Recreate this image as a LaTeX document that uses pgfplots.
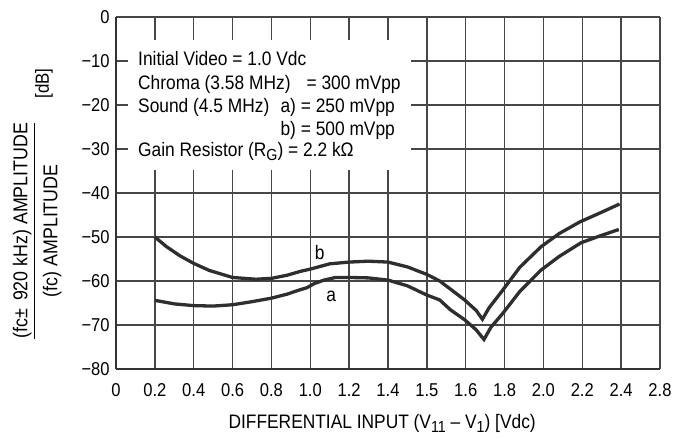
\documentclass[border=0pt]{standalone}
\usepackage{fontspec}
\setmainfont{Liberation Sans}[FakeStretch=0.89]
\usepackage{pgfplots}
\pgfplotsset{compat=1.18}

\newcommand{\sub}[1]{\raisebox{-4bp}{\fontsize{16bp}{16bp}\selectfont #1}}
\newcommand{\boxfont}{\fontsize{19.5bp}{22bp}\selectfont}

\begin{document}
\fontsize{18.6bp}{22bp}\selectfont
\begin{tikzpicture}
\begin{axis}[
    scale only axis,
    width=544bp, height=352bp,
    xmin=0, xmax=14,
    ymin=-80, ymax=0,
    xtick={0,1,...,14},
    xticklabels={0,0.2,0.4,0.6,0.8,1.0,1.2,1.4,1.5,1.6,1.8,2.0,2.2,2.4,2.8},
    ytick={-80,-70,...,0},
    yticklabels={−80,−70,−60,−50,−40,−30,−20,−10,0},
    axis x line=bottom, axis y line=left,
    axis line style={line width=2.6bp, color=black!80, -},
    major tick length=0pt,
    grid=major,
    grid style={line width=1.3bp, color=black!72},
    xticklabel style={yshift=-8bp},
    clip=false,
]

% b) 500 mVpp
\addplot[line width=3.3bp, color=black!82] coordinates {
 (1,-50.0) (1.3,-52.2) (1.65,-54.3) (2,-56.0) (2.4,-57.6) (3,-59.2) (3.6,-59.6)
 (4,-59.4) (4.4,-58.7) (4.75,-57.8) (5,-57.3) (5.5,-56.1) (6,-55.7) (6.5,-55.5)
 (7,-55.7) (7.5,-56.8) (8,-58.5) (8.33,-60.0) (8.6,-61.8) (8.97,-64.3) (9.27,-66.7)
 (9.43,-68.7) (9.6,-66.1) (9.96,-62.0) (10.39,-56.9) (10.94,-52.2) (11.41,-49.2)
 (11.93,-46.6) (12.44,-44.6) (12.96,-42.5)
};

% a) 250 mVpp
\addplot[line width=3.3bp, color=black!82] coordinates {
 (1,-64.4) (1.5,-65.2) (2,-65.6) (2.5,-65.7) (3,-65.4) (3.5,-64.7) (4,-63.9)
 (4.4,-63.0) (4.7,-62.1) (4.92,-61.5) (5.1,-60.6) (5.35,-59.8) (5.65,-59.2) (6,-59.2)
 (6.5,-59.3) (7,-59.8) (7.5,-61.1) (8,-63.2) (8.33,-64.3) (8.6,-66.5) (8.97,-68.8)
 (9.27,-71.1) (9.47,-73.3) (9.65,-70.5) (9.96,-67.3) (10.39,-62.4) (10.94,-57.5)
 (11.41,-54.4) (11.97,-51.3) (12.44,-49.8) (12.94,-48.3)
};

\node[font=\boxfont] at (axis cs:5.24,-53.6) {b};
\node[font=\boxfont] at (axis cs:5.54,-63.6) {a};

% conditions box
\fill[white] (axis cs:0.31,-5.2) rectangle (axis cs:7.58,-34.8);
\begin{scope}[every node/.style={anchor=base west, inner sep=0pt, font=\boxfont}]
\node at (axis cs:0.566,-11.1) {Initial Video = 1.0 Vdc};
\node at (axis cs:0.566,-16.5) {Chroma (3.58 MHz)};
\node at (axis cs:4.9,-16.5) {= 300 mVpp};
\node at (axis cs:0.566,-21.7) {Sound (4.5 MHz)};
\node at (axis cs:4.23,-21.7) {a) = 250 mVpp};
\node at (axis cs:4.23,-26.9) {b) = 500 mVpp};
\node at (axis cs:0.566,-31.8) {Gain Resistor (R\sub{G}) = 2.2 kΩ};
\end{scope}

% axis titles
\node[anchor=base, inner sep=0pt, font=\boxfont] at ([yshift=-60bp]axis cs:6.85,-80)
  {DIFFERENTIAL INPUT (V\sub{11} – V\sub{1}) [Vdc)};
\node[rotate=90, inner sep=0pt, font=\fontsize{20bp}{22bp}\selectfont]
  at ([xshift=-78bp]axis cs:0,-48.6)
  {\setlength{\arrayrulewidth}{1.2bp}\begin{tabular}{@{}c@{}}(fc±\, 920 kHz) AMPLITUDE\\\hline\rule{0pt}{22bp}(fc) AMPLITUDE\end{tabular}};
\node[rotate=90, inner sep=0pt, font=\fontsize{19bp}{22bp}\selectfont]
  at ([xshift=-72bp]axis cs:0,-15.1) {[dB]};
\end{axis}
\pgfresetboundingbox
\path[use as bounding box] ([shift={(-116bp,-70bp)}]current axis.south west)
  rectangle ([shift={(29bp,17bp)}]current axis.north east);
\end{tikzpicture}
\end{document}
